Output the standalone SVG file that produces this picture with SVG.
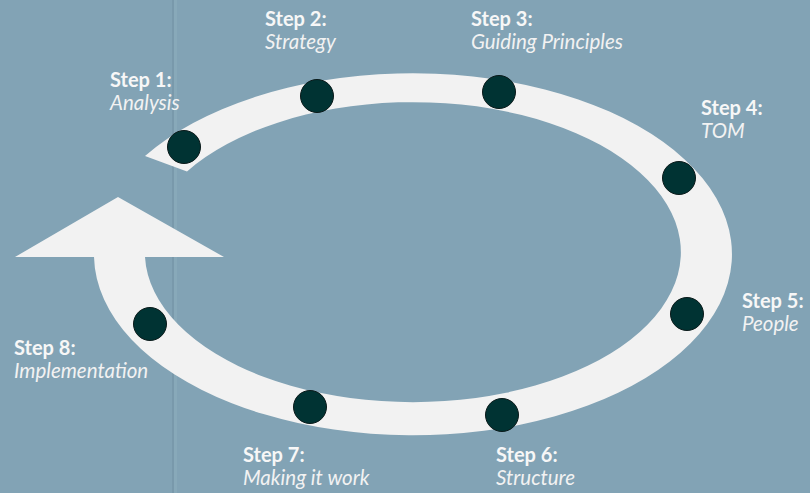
<svg xmlns="http://www.w3.org/2000/svg" width="810" height="493" viewBox="0 0 810 493">
<defs>
<style>
.bg{fill:#82a3b5}
.band{fill:#f2f2f2}
.dot{fill:#003333;stroke:#0a1a1a;stroke-width:1}
.h{font-family:Lato,"Liberation Sans",sans-serif;font-weight:700;font-size:20px;fill:#f7f7f7}
.s{font-family:Lato,"Liberation Sans",sans-serif;font-style:italic;font-weight:400;font-size:20.5px;fill:#f2f2f2}
</style>
<linearGradient id="glow" x1="0" y1="0" x2="1" y2="0">
<stop offset="0" stop-color="#7fa0b2"/>
<stop offset="0.5" stop-color="#87a8b9"/>
<stop offset="1" stop-color="#82a3b5"/>
</linearGradient>
</defs>
<rect class="bg" x="0" y="0" width="810" height="493" fill="url(#glow)"/>
<rect x="172" y="0" width="2" height="493" fill="#6f90a2" opacity="0.5"/>
<rect x="174" y="0" width="3" height="493" fill="#92b1c1" opacity="0.4"/>
<g id="connectors">
<path class="band" d="M145,156 A319,181 0 1 1 94,257 L15,257 L118,197 L224,257 L145,257 A268,150 0 1 0 187,171.4 Z"/>
</g>
<g id="step1"><circle class="dot" cx="184" cy="147" r="16.5"/><text class="h" x="110" y="87">Step 1:</text><text class="s" x="110" y="110">Analysis</text></g>
<g id="step2"><circle class="dot" cx="317" cy="96" r="16.5"/><text class="h" x="265" y="26">Step 2:</text><text class="s" x="265" y="49">Strategy</text></g>
<g id="step3"><circle class="dot" cx="499" cy="92" r="16.5"/><text class="h" x="471" y="26">Step 3:</text><text class="s" x="471" y="49">Guiding Principles</text></g>
<g id="step4"><circle class="dot" cx="679" cy="178" r="16.5"/><text class="h" x="701" y="115">Step 4:</text><text class="s" x="701" y="138">TOM</text></g>
<g id="step5"><circle class="dot" cx="687" cy="314" r="16.5"/><text class="h" x="742" y="308">Step 5:</text><text class="s" x="742" y="331">People</text></g>
<g id="step6"><circle class="dot" cx="502" cy="415" r="16.5"/><text class="h" x="496" y="462">Step 6:</text><text class="s" x="496" y="485">Structure</text></g>
<g id="step7"><circle class="dot" cx="310" cy="407" r="16.5"/><text class="h" x="243" y="462">Step 7:</text><text class="s" x="243" y="485">Making it work</text></g>
<g id="step8"><circle class="dot" cx="150" cy="324" r="16.5"/><text class="h" x="14" y="355">Step 8:</text><text class="s" x="14" y="378">Implementation</text></g>
</svg>
